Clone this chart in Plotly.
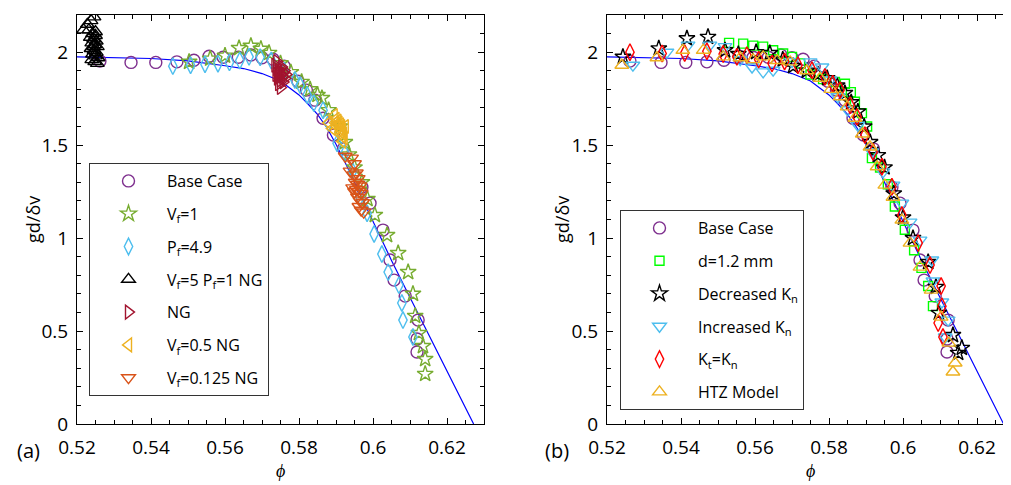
import plotly.graph_objects as go

# DATA ---------------------------------------------------------------------------------------------

# fitted curve (same in both panels)
fit_phi = [0.52, 0.53, 0.54, 0.55, 0.555, 0.56, 0.565, 0.57, 0.575, 0.58, 0.5825, 0.585, 0.5875,
           0.59, 0.5925, 0.595, 0.5975, 0.60, 0.605, 0.61, 0.615, 0.62, 0.625, 0.6272]
fit_val = [1.975, 1.972, 1.966, 1.953, 1.942, 1.927, 1.912, 1.885, 1.845, 1.77, 1.72, 1.665, 1.595,
           1.505, 1.405, 1.30, 1.19, 1.085, 0.88, 0.68, 0.48, 0.28, 0.085, 0.0]

# base case (both panels)
base_phi = [0.5262, 0.5346, 0.5413, 0.5470, 0.5516, 0.5557, 0.5595, 0.5636, 0.5670, 0.5700, 0.5730,
            0.5760, 0.5797, 0.5820, 0.5843, 0.5865, 0.5893, 0.5920, 0.5970, 0.5992, 0.6027, 0.6046,
            0.6057, 0.6087, 0.6122, 0.6119, 0.6119]
base_val = [1.952, 1.945, 1.945, 1.948, 1.957, 1.978, 1.973, 1.973, 1.985, 1.970, 1.962,
            1.925, 1.844, 1.796, 1.742, 1.645, 1.554, 1.480, 1.274, 1.188, 1.043, 0.882,
            0.774, 0.688, 0.559, 0.457, 0.387]

# panel (a)
vf1_phi = [0.5503, 0.5560, 0.5600, 0.5638, 0.5670, 0.5697, 0.5719, 0.5750, 0.5778, 0.5807, 0.5830,
           0.5850, 0.5862, 0.5880, 0.5910, 0.5924, 0.5935, 0.5950, 0.5970, 0.5985, 0.6005, 0.6038,
           0.6068, 0.6095, 0.6108, 0.6114, 0.6124, 0.6135, 0.6141, 0.6141]
vf1_val = [1.948, 1.965, 1.981, 2.022, 2.034, 2.018, 1.996, 1.940, 1.892, 1.840, 1.800,
           1.770, 1.753, 1.688, 1.600, 1.516, 1.450, 1.380, 1.300, 1.210, 1.124, 1.016,
           0.919, 0.817, 0.700, 0.581, 0.489, 0.419, 0.349, 0.269]

pf_phi = [0.5459, 0.5507, 0.5546, 0.5581, 0.5612, 0.5640, 0.5665, 0.5695, 0.5725, 0.5760, 0.5789,
          0.5803, 0.5822, 0.5840, 0.5865, 0.5880, 0.5903, 0.5924, 0.5945, 0.5965, 0.5984, 0.6003,
          0.6024, 0.6041, 0.6070, 0.6078, 0.6081, 0.6108]
pf_val = [1.925, 1.930, 1.935, 1.938, 1.945, 1.955, 1.975, 1.973, 1.955, 1.900, 1.850,
          1.823, 1.770, 1.726, 1.688, 1.620, 1.510, 1.457, 1.360, 1.220, 1.134, 1.022,
          0.914, 0.817, 0.747, 0.651, 0.559, 0.468]

vf5_phi = [0.5246, 0.5238, 0.5228, 0.5218, 0.5232, 0.5242, 0.5250, 0.5236, 0.5245, 0.5252, 0.5240,
           0.5248, 0.5255, 0.5238, 0.5246, 0.5252, 0.5242, 0.5250, 0.5257, 0.5240, 0.5248, 0.5255,
           0.5245, 0.5250]
vf5_val = [2.19, 2.17, 2.15, 2.12, 2.12, 2.10, 2.09, 2.08, 2.07, 2.06, 2.05,
           2.04, 2.03, 2.02, 2.01, 2.00, 1.99, 1.98, 1.97, 1.96, 1.95, 1.94,
           2.03, 2.11]

ng_phi = [0.5735, 0.5740, 0.5745, 0.5748, 0.5752, 0.5755, 0.5742, 0.5750, 0.5757, 0.5745, 0.5760,
          0.5738, 0.5762, 0.5753, 0.5747, 0.5758, 0.5765, 0.5740, 0.5750]
ng_val = [1.93, 1.91, 1.90, 1.89, 1.88, 1.87, 1.86, 1.85, 1.84, 1.83, 1.90,
          1.88, 1.86, 1.92, 1.87, 1.89, 1.88, 1.95, 1.81]

vf05_phi = [0.5895, 0.5900, 0.5905, 0.5908, 0.5912, 0.5915, 0.5910, 0.5918, 0.5913, 0.5920, 0.5916,
            0.5922, 0.5918, 0.5898, 0.5903, 0.5880, 0.5890, 0.5925]
vf05_val = [1.66, 1.64, 1.63, 1.62, 1.61, 1.60, 1.59, 1.58, 1.57, 1.56, 1.55,
            1.54, 1.52, 1.62, 1.60, 1.62, 1.59, 1.60]

vf0125_phi = [0.5925, 0.5942, 0.5950, 0.5938, 0.5948, 0.5955, 0.5960, 0.5952, 0.5958, 0.5965, 0.5955,
              0.5962, 0.5968, 0.5958, 0.5965, 0.5972, 0.5962, 0.5968, 0.5975, 0.5945, 0.5950]
vf0125_val = [1.44, 1.43, 1.40, 1.36, 1.34, 1.35, 1.32, 1.30, 1.29, 1.28, 1.26,
              1.25, 1.24, 1.22, 1.20, 1.19, 1.17, 1.15, 1.14, 1.27, 1.25]

# panel (b)
d12_phi = [0.5530, 0.5568, 0.5595, 0.5622, 0.5649, 0.5676, 0.5700, 0.5722, 0.5750, 0.5784, 0.5816,
           0.5843, 0.5859, 0.5870, 0.5889, 0.5903, 0.5916, 0.5938, 0.5959, 0.5978, 0.6005, 0.6030,
           0.6050, 0.6068, 0.6081]
d12_val = [2.050, 2.046, 2.035, 2.030, 2.010, 1.993, 1.975, 1.940, 1.880, 1.855, 1.840,
           1.830, 1.785, 1.733, 1.672, 1.600, 1.430, 1.380, 1.290, 1.170, 1.045, 0.935,
           0.840, 0.742, 0.634]

deck_phi = [0.5243, 0.5340, 0.5416, 0.5473, 0.5519, 0.5555, 0.5603, 0.5640, 0.5675, 0.5703, 0.5740,
            0.5770, 0.5795, 0.5822, 0.5843, 0.5860, 0.5878, 0.5895, 0.5911, 0.5932, 0.5950, 0.5975,
            0.6000, 0.6027, 0.6068, 0.6089, 0.6097, 0.6135, 0.6159, 0.6149]
deck_val = [1.975, 2.020, 2.074, 2.082, 2.010, 1.990, 2.000, 1.995, 1.960, 1.925, 1.900,
            1.880, 1.860, 1.820, 1.780, 1.730, 1.680, 1.600, 1.516, 1.446, 1.380, 1.240,
            1.110, 1.000, 0.871, 0.737, 0.597, 0.478, 0.409, 0.382]

inck_phi = [0.5270, 0.5362, 0.5419, 0.5478, 0.5519, 0.5560, 0.5592, 0.5622, 0.5649, 0.5700, 0.5749,
            0.5781, 0.5803, 0.5824, 0.5850, 0.5878, 0.5916, 0.5946, 0.5973, 0.5997, 0.6019, 0.6046,
            0.6078, 0.6081, 0.6105, 0.6122, 0.6114]
inck_val = [1.930, 2.000, 2.038, 2.038, 2.030, 1.960, 1.920, 1.894, 1.903, 1.950, 1.948,
            1.920, 1.850, 1.760, 1.690, 1.607, 1.464, 1.356, 1.285, 1.188, 1.086, 0.989,
            0.882, 0.769, 0.656, 0.559, 0.468]

kt_phi = [0.5262, 0.5349, 0.5410, 0.5470, 0.5514, 0.5551, 0.5578, 0.5610, 0.5646, 0.5680, 0.5716,
          0.5754, 0.5789, 0.5810, 0.5830, 0.5857, 0.5876, 0.5897, 0.5919, 0.5943, 0.5970, 0.5997,
          0.6041, 0.6073, 0.6103, 0.6105, 0.6095, 0.6108]
kt_val = [2.000, 1.993, 1.995, 2.005, 1.990, 1.975, 1.984, 1.960, 1.940, 1.950, 1.930,
          1.903, 1.867, 1.830, 1.796, 1.715, 1.652, 1.554, 1.464, 1.384, 1.276, 1.124,
          0.973, 0.855, 0.742, 0.634, 0.543, 0.468]

htz_phi = [0.5240, 0.5335, 0.5405, 0.5460, 0.5514, 0.5560, 0.5595, 0.5622, 0.5660, 0.5695, 0.5740,
           0.5776, 0.5805, 0.5830, 0.5849, 0.5870, 0.5890, 0.5911, 0.5930, 0.5951, 0.5973, 0.5997,
           0.6019, 0.6046, 0.6076, 0.6103, 0.6124, 0.6141, 0.6135]
htz_val = [1.930, 1.970, 2.010, 2.010, 1.975, 1.970, 1.960, 1.975, 1.955, 1.948, 1.900,
           1.860, 1.800, 1.760, 1.706, 1.645, 1.560, 1.490, 1.384, 1.285, 1.220, 1.097,
           0.973, 0.844, 0.720, 0.575, 0.435, 0.328, 0.280]

x_ticks = [0.52, 0.54, 0.56, 0.58, 0.6, 0.62]
x_ticklabels = ['0.52', '0.54', '0.56', '0.58', '0.6', '0.62']
y_ticks = [0, 0.5, 1, 1.5, 2]
y_ticklabels = ['0', '0.5', '1', '1.5', '2']

# FIGURE -------------------------------------------------------------------------------------------

FONT = 'Open Sans'
W, H = 1011, 485
OFF = 8  # page body margin shifts the figure by 8px, so positions are given relative to that


def px(x):
    return (x - OFF) / W


def py(y):
    return 1 - (y - OFF) / H


fig = go.Figure()


def add_points(x, y, name, symbol, color, xa, ya, legend, size=12):
    fig.add_trace(go.Scatter(
        x=x, y=y, mode='markers', name=name, xaxis=xa, yaxis=ya, legend=legend,
        legendgroup=legend + name,
        marker=dict(symbol=symbol, size=size, color=color, line=dict(width=1.4))))


# panel (a)
fig.add_trace(go.Scatter(x=fit_phi, y=fit_val, mode='lines', line=dict(color='#0000FF', width=1.2),
                         showlegend=False, xaxis='x', yaxis='y'))
add_points(base_phi, base_val, 'Base Case', 'circle-open', '#7E2F8E', 'x', 'y', 'legend')
add_points(vf1_phi, vf1_val, 'V<sub>f</sub>=1', 'star-open', '#77AC30', 'x', 'y', 'legend')
add_points(pf_phi, pf_val, 'P<sub>f</sub>=4.9', 'diamond-tall-open', '#4DBEEE', 'x', 'y', 'legend')
add_points(vf5_phi, vf5_val, 'V<sub>f</sub>=5 P<sub>f</sub>=1 NG', 'triangle-up-open', '#000000', 'x', 'y', 'legend')
add_points(ng_phi, ng_val, 'NG', 'triangle-right-open', '#A2142F', 'x', 'y', 'legend')
add_points(vf05_phi, vf05_val, 'V<sub>f</sub>=0.5 NG', 'triangle-left-open', '#EDB120', 'x', 'y', 'legend')
add_points(vf0125_phi, vf0125_val, 'V<sub>f</sub>=0.125 NG', 'triangle-down-open', '#D95319', 'x', 'y', 'legend')

# panel (b)
fig.add_trace(go.Scatter(x=fit_phi, y=fit_val, mode='lines', line=dict(color='#0000FF', width=1.2),
                         showlegend=False, xaxis='x2', yaxis='y2'))
add_points(base_phi, base_val, 'Base Case', 'circle-open', '#7E2F8E', 'x2', 'y2', 'legend2')
add_points(d12_phi, d12_val, 'd=1.2 mm', 'square-open', '#00FF00', 'x2', 'y2', 'legend2', size=9)
add_points(deck_phi, deck_val, 'Decreased K<sub>n</sub>', 'star-open', '#000000', 'x2', 'y2', 'legend2')
add_points(inck_phi, inck_val, 'Increased K<sub>n</sub>', 'triangle-down-open', '#4DBEEE', 'x2', 'y2', 'legend2')
add_points(kt_phi, kt_val, 'K<sub>t</sub>=K<sub>n</sub>', 'diamond-tall-open', '#FF0000', 'x2', 'y2', 'legend2')
add_points(htz_phi, htz_val, 'HTZ Model', 'triangle-up-open', '#EDB120', 'x2', 'y2', 'legend2')

# axes
ax_common = dict(showline=True, linecolor='black', linewidth=1, mirror='allticks', automargin=False,
                 ticks='inside', ticklen=6, tickwidth=1, tickcolor='black', showgrid=False, zeroline=False,
                 tickfont=dict(family=FONT, size=19, color='black'))
xa = dict(ax_common, tickmode='array', tickvals=x_ticks, ticktext=x_ticklabels, ticklabelstandoff=6,
          minor=dict(dtick=0.005, ticks='inside', ticklen=4, tickwidth=1, tickcolor='black'))
ya = dict(ax_common, tickmode='array', tickvals=y_ticks, ticktext=y_ticklabels, range=[0, 2.2],
          ticklabelstandoff=4,
          minor=dict(dtick=0.1, ticks='inside', ticklen=4, tickwidth=1, tickcolor='black'))

y_dom = [py(424), py(15)]
fig.update_layout(
    xaxis=dict(xa, domain=[px(77), px(484)], range=[0.52, 0.63], anchor='y'),
    yaxis=dict(ya, domain=y_dom, anchor='x'),
    xaxis2=dict(xa, domain=[px(607), px(1011)], range=[0.52, 0.52 + 404 / 3700], anchor='y2'),
    yaxis2=dict(ya, domain=y_dom, anchor='x2'),
)

leg = dict(bgcolor='white', bordercolor='#333333', borderwidth=1, xanchor='left', yanchor='top',
           font=dict(family=FONT, size=16, color='black'), itemwidth=67, tracegroupgap=9)
fig.update_layout(
    legend=dict(leg, x=px(89), y=py(163)),
    legend2=dict(leg, x=px(620), y=py(210)),
)

# axis titles and panel labels
annots = [
    (33, 220, 'gd/δv', -90, 18, FONT),
    (562, 220, 'gd/δv', -90, 18, FONT),
    (280, 471, '<i>ϕ</i>', 0, 18, 'Liberation Serif'),
    (810, 471, '<i>ϕ</i>', 0, 18, 'Liberation Serif'),
    (28, 450, '(a)', 0, 20, FONT),
    (557, 450, '(b)', 0, 20, FONT),
]
for ax, ay, txt, ang, fs, fam in annots:
    fig.add_annotation(x=px(ax), y=py(ay), xref='paper', yref='paper', text=txt,
                       showarrow=False, textangle=ang, xanchor='center', yanchor='middle',
                       font=dict(family=fam, size=fs, color='black'))

fig.update_layout(width=W, height=H, margin=dict(l=0, r=0, t=0, b=0),
                  paper_bgcolor='white', plot_bgcolor='white')

fig.write_html("out.html")
